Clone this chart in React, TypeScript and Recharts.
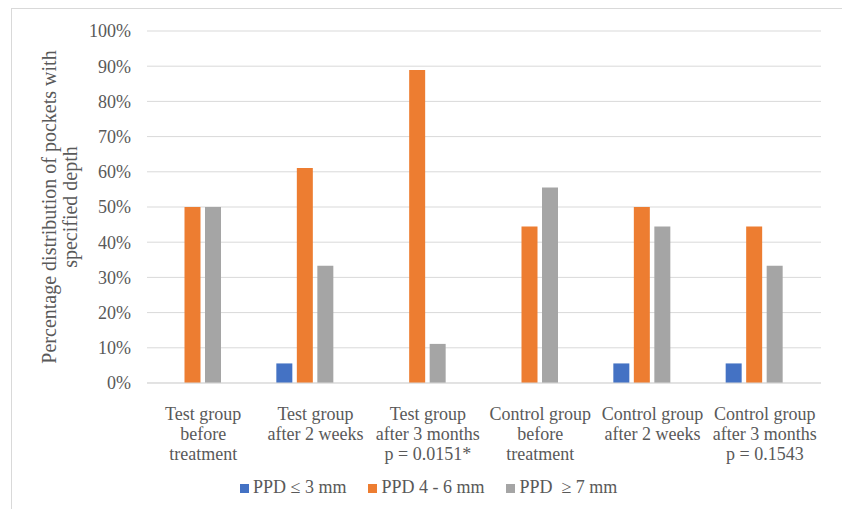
import React from 'react';
import { BarChart, Bar, XAxis, YAxis, CartesianGrid, Legend, Label } from 'recharts';

const categories = [
  'Test group\nbefore\ntreatment',
  'Test group\nafter 2 weeks',
  'Test group\nafter 3 months\np = 0.0151*',
  'Control group\nbefore\ntreatment',
  'Control group\nafter 2 weeks',
  'Control group\nafter 3 months\np = 0.1543',
];
const ppdLow = [0, 5.56, 0, 0, 5.56, 5.56];
const ppdMid = [50, 61.11, 88.89, 44.44, 50, 44.44];
const ppdHigh = [50, 33.33, 11.11, 55.56, 44.44, 33.33];
const yTicks = [0, 10, 20, 30, 40, 50, 60, 70, 80, 90, 100];

const series = [
  { key: 'low', name: 'PPD ≤ 3 mm', color: '#4472C4' },
  { key: 'mid', name: 'PPD 4 - 6 mm', color: '#ED7D31' },
  { key: 'high', name: 'PPD  ≥ 7 mm', color: '#A5A5A5' },
];

const data = categories.map((c, i) => ({
  name: c,
  low: ppdLow[i],
  mid: ppdMid[i],
  high: ppdHigh[i],
}));

const FONT = '"Liberation Serif", "Times New Roman", serif';
const TEXT = '#595959';
const GRID = '#d9d9d9';
const textStyle = { fontFamily: FONT, fontSize: 18, fill: TEXT };

const CategoryTick = (props: any) => {
  const { x, y, payload } = props;
  const lines = String(payload.value).split('\n');
  return (
    <text x={x} y={y} textAnchor="middle" style={textStyle}>
      {lines.map((l, i) => (
        <tspan key={i} x={x} dy={i === 0 ? 29 : 20}>
          {l}
        </tspan>
      ))}
    </text>
  );
};

const PercentTick = (props: any) => {
  const { x, y, payload } = props;
  return (
    <text x={x} y={y} dy="0.35em" textAnchor="end" style={textStyle}>
      {`${payload.value}%`}
    </text>
  );
};

const AxisTitle = (props: any) => {
  const { viewBox } = props;
  const cy = viewBox.y + viewBox.height / 2;
  return (
    <text
      transform={`translate(56, ${cy}) rotate(-90)`}
      textAnchor="middle"
      style={{ ...textStyle, fontSize: 20 }}
    >
      <tspan x={0} dy={0}>Percentage distribution of pockets with</tspan>
      <tspan x={0} dy={21}>specified depth</tspan>
    </text>
  );
};

const LegendContent = () => (
  <div style={{ display: 'flex', gap: 22, fontFamily: FONT, fontSize: 18, color: TEXT }}>
    {series.map((s) => (
      <div key={s.key} style={{ display: 'flex', alignItems: 'center', whiteSpace: 'pre' }}>
        <span style={{ width: 9, height: 9, background: s.color, marginRight: 4, marginTop: 2 }} />
        {s.name}
      </div>
    ))}
  </div>
);

export default function App() {
  return (
    <div style={{ position: 'absolute', left: 0, top: 0, width: 842, height: 509, overflow: 'hidden', background: '#fff' }}>
      <div
        style={{
          position: 'absolute',
          left: 11,
          top: 8,
          width: 840,
          height: 510,
          border: `1px solid ${GRID}`,
        }}
      />
      <div style={{ position: 'absolute', left: 0, top: 0 }}>
        <BarChart
          width={842}
          height={509}
          data={data}
          margin={{ top: 31, right: 21, left: 0, bottom: 0 }}
          barSize={16}
          barGap={4.5}
        >
          <CartesianGrid vertical={false} stroke={GRID} />
          <XAxis
            dataKey="name"
            interval={0}
            height={126}
            tickLine={false}
            axisLine={{ stroke: GRID }}
            tick={<CategoryTick />}
          />
          <YAxis
            width={147}
            domain={[0, 100]}
            ticks={yTicks}
            interval={0}
            axisLine={false}
            tickLine={false}
            tickSize={0}
            tickMargin={16}
            tick={<PercentTick />}
          >
            <Label content={<AxisTitle />} />
          </YAxis>
          <Legend
            layout="horizontal"
            verticalAlign="middle"
            align="center"
            content={<LegendContent />}
            wrapperStyle={{ left: 240, top: 477, width: 420 }}
          />
          {series.map((s) => (
            <Bar key={s.key} dataKey={s.key} name={s.name} fill={s.color} isAnimationActive={false} />
          ))}
          {/* empty fourth slot in each group, keeps the three bars off-centre */}
          <Bar dataKey="blank" legendType="none" fill="none" isAnimationActive={false} />
        </BarChart>
      </div>
    </div>
  );
}
